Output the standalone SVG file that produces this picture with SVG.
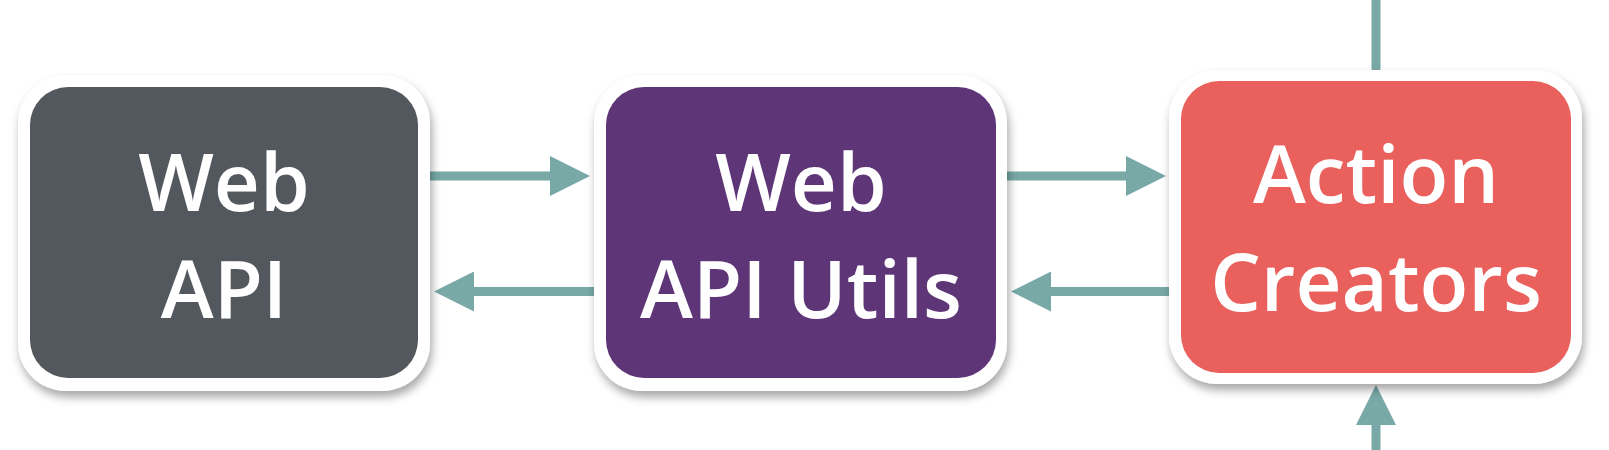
<svg xmlns="http://www.w3.org/2000/svg" width="1609" height="450" viewBox="0 0 1609 450">
<style>
.frame{fill:#ffffff;filter:url(#sh);}
.lbl{font-family:"Open Sans","Noto Sans","Liberation Sans",sans-serif;font-weight:600;font-size:80px;fill:#ffffff;text-anchor:middle;}
.conn{stroke:#78a9a7;stroke-width:9;fill:none;}
</style>
<defs>
<filter id="sh" x="-10%" y="-10%" width="125%" height="130%">
<feDropShadow dx="2" dy="6" stdDeviation="5" flood-color="#000" flood-opacity="0.35"/>
</filter>
<marker id="ah" markerUnits="userSpaceOnUse" markerWidth="40" markerHeight="40" refX="0" refY="20" orient="auto" viewBox="0 0 40 40">
<path d="M0,0 L40,20 L0,40 Z" fill="#78a9a7"/>
</marker>
</defs>
<rect width="1609" height="450" fill="#ffffff"/>
<g id="connectors">
<line class="conn" x1="430" y1="176" x2="550" y2="176" marker-end="url(#ah)"/>
<line class="conn" x1="594" y1="291.5" x2="474" y2="291.5" marker-end="url(#ah)"/>
<line class="conn" x1="1007" y1="176" x2="1126" y2="176" marker-end="url(#ah)"/>
<line class="conn" x1="1169" y1="291.5" x2="1051" y2="291.5" marker-end="url(#ah)"/>
<line class="conn" x1="1376" y1="0" x2="1376" y2="72"/>
<line class="conn" x1="1376" y1="450" x2="1376" y2="425" marker-end="url(#ah)"/>
</g>
<g id="web-api">
<rect class="frame" x="18" y="75" width="412" height="316" rx="48"/>
<rect x="30" y="87" width="388" height="291" rx="38" fill="#53575e"/>
<text class="lbl" x="224" y="211">Web</text>
<text class="lbl" x="224" y="318">API</text>
</g>
<g id="web-api-utils">
<rect class="frame" x="594" y="75" width="413" height="316" rx="48"/>
<rect x="606" y="87" width="390" height="291" rx="38" fill="#5e3577"/>
<text class="lbl" x="801" y="211">Web</text>
<text class="lbl" x="801" y="318">API Utils</text>
</g>
<g id="action-creators">
<rect class="frame" x="1169" y="70" width="413" height="314" rx="48"/>
<rect x="1181" y="81" width="390" height="292" rx="38" fill="#e9605c"/>
<text class="lbl" x="1376" y="203">Action</text>
<text class="lbl" x="1376" y="311">Creators</text>
</g>
</svg>
